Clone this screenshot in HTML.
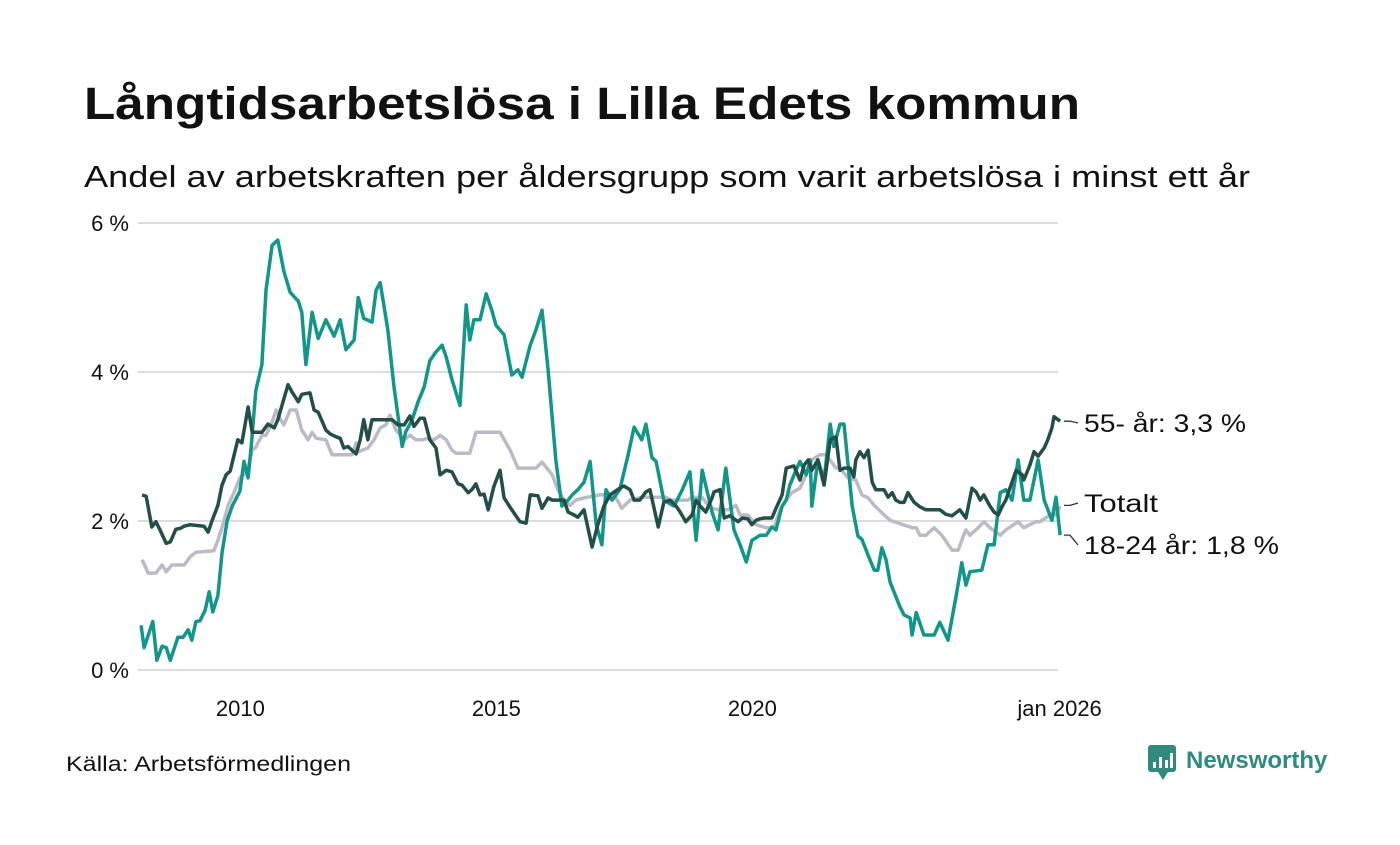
<!DOCTYPE html>
<html><head><meta charset="utf-8"><style>
body{margin:0;background:#fff;width:1400px;height:840px;overflow:hidden;font-family:"Liberation Sans",sans-serif}
</style></head><body>
<svg width="1400" height="840" xmlns="http://www.w3.org/2000/svg" font-family="Liberation Sans, sans-serif">
<text x="84" y="119" font-size="45" font-weight="bold" fill="#111" textLength="996" lengthAdjust="spacingAndGlyphs">Långtidsarbetslösa i Lilla Edets kommun</text>
<text x="84" y="187" font-size="31" fill="#111" textLength="1166" lengthAdjust="spacingAndGlyphs">Andel av arbetskraften per åldersgrupp som varit arbetslösa i minst ett år</text>
<g id="grid"></g><g id="lines"></g><g id="labels"></g>
<text x="66" y="771" font-size="21" fill="#111" textLength="285" lengthAdjust="spacingAndGlyphs">Källa: Arbetsförmedlingen</text>
<g>
<rect x="1148" y="745" width="28" height="27" rx="3" fill="#2e8b7e"/>
<path d="M1158 772 L1163 780 L1168 772 Z" fill="#2e8b7e"/>
<rect x="1153" y="762" width="3" height="6" fill="#fff"/><rect x="1159" y="757" width="3" height="11" fill="#fff"/><rect x="1165" y="760" width="3" height="8" fill="#fff"/><rect x="1170" y="753" width="3" height="15" fill="#fff"/>
<text x="1186" y="768" font-size="24" font-weight="bold" fill="#2e8b7e">Newsworthy</text>
</g>
</svg>
<script>
const yTicks=[0,2,4,6];
const yTickLabels=["0 %","2 %","4 %","6 %"];
const xTicks=[2010,2015,2020,2026];
const xTickLabels=["2010","2015","2020","jan 2026"];
const darkDates=[2008.08,2008.16,2008.27,2008.35,2008.43,2008.55,2008.63,2008.74,2008.82,2008.90,2009.02,2009.29,2009.37,2009.45,2009.56,2009.64,2009.72,2009.80,2009.95,2010.03,2010.15,2010.23,2010.42,2010.54,2010.66,2010.73,2010.93,2011.01,2011.13,2011.20,2011.36,2011.44,2011.52,2011.67,2011.75,2011.87,2011.95,2012.02,2012.10,2012.26,2012.34,2012.41,2012.49,2012.57,2012.96,2013.08,2013.20,2013.31,2013.39,2013.51,2013.59,2013.70,2013.82,2013.90,2014.02,2014.13,2014.25,2014.33,2014.45,2014.52,2014.60,2014.68,2014.76,2014.84,2014.95,2015.07,2015.15,2015.30,2015.46,2015.58,2015.66,2015.81,2015.89,2016.01,2016.09,2016.32,2016.40,2016.52,2016.59,2016.71,2016.87,2016.98,2017.10,2017.22,2017.30,2017.41,2017.49,2017.61,2017.69,2017.80,2017.92,2018.00,2018.16,2018.27,2018.39,2018.51,2018.59,2018.70,2018.82,2018.90,2018.98,2019.09,2019.21,2019.25,2019.37,2019.45,2019.56,2019.72,2019.80,2019.91,2019.99,2020.07,2020.15,2020.23,2020.38,2020.46,2020.58,2020.66,2020.81,2020.93,2021.01,2021.09,2021.16,2021.28,2021.40,2021.52,2021.63,2021.71,2021.79,2021.91,2021.98,2022.02,2022.10,2022.18,2022.26,2022.34,2022.41,2022.57,2022.65,2022.73,2022.80,2022.88,2022.96,2023.04,2023.16,2023.27,2023.39,2023.51,2023.66,2023.78,2023.90,2024.05,2024.17,2024.29,2024.37,2024.45,2024.52,2024.64,2024.72,2024.80,2024.88,2024.95,2025.03,2025.15,2025.27,2025.30,2025.42,2025.50,2025.58,2025.70,2025.77,2025.85,2025.89,2025.97,2026.01];
const darkValues=[2.35,2.33,1.92,1.99,1.88,1.7,1.72,1.89,1.9,1.93,1.95,1.93,1.85,2.01,2.21,2.48,2.62,2.67,3.09,3.05,3.53,3.19,3.19,3.3,3.25,3.36,3.83,3.73,3.6,3.7,3.72,3.49,3.46,3.22,3.17,3.13,3.11,2.98,3.0,2.9,3.09,3.36,3.09,3.36,3.36,3.29,3.29,3.41,3.27,3.38,3.38,3.09,2.98,2.62,2.68,2.66,2.5,2.48,2.38,2.42,2.5,2.35,2.36,2.15,2.46,2.68,2.31,2.15,1.99,1.97,2.35,2.34,2.17,2.31,2.28,2.28,2.12,2.08,2.05,2.15,1.65,1.95,2.2,2.35,2.39,2.44,2.47,2.42,2.28,2.28,2.39,2.42,1.92,2.25,2.28,2.2,2.12,1.99,2.08,2.28,2.2,2.12,2.31,2.39,2.42,2.04,2.07,1.99,2.04,2.03,1.95,2.01,2.03,2.04,2.04,2.17,2.35,2.71,2.74,2.55,2.75,2.82,2.68,2.82,2.48,3.09,3.13,2.68,2.71,2.71,2.59,2.82,2.93,2.85,2.95,2.52,2.42,2.42,2.32,2.38,2.28,2.25,2.25,2.38,2.25,2.19,2.15,2.15,2.15,2.09,2.07,2.15,2.04,2.44,2.39,2.28,2.35,2.2,2.12,2.08,2.2,2.28,2.44,2.68,2.62,2.55,2.75,2.93,2.87,2.98,3.09,3.25,3.4,3.36,3.34];
const totalDates=[2008.08,2008.20,2008.35,2008.47,2008.55,2008.66,2008.90,2009.02,2009.13,2009.48,2009.56,2009.64,2009.76,2009.88,2009.99,2010.07,2010.15,2010.23,2010.30,2010.42,2010.50,2010.62,2010.70,2010.77,2010.85,2010.97,2011.09,2011.20,2011.32,2011.40,2011.48,2011.67,2011.79,2012.18,2012.26,2012.30,2012.49,2012.61,2012.73,2012.84,2012.92,2013.04,2013.20,2013.31,2013.43,2013.55,2013.66,2013.78,2013.90,2014.02,2014.13,2014.21,2014.48,2014.60,2015.07,2015.27,2015.42,2015.77,2015.89,2016.09,2016.20,2016.32,2016.44,2016.55,2016.71,2017.02,2017.30,2017.45,2017.61,2017.84,2018.31,2018.39,2018.74,2018.82,2019.02,2019.09,2019.21,2019.33,2019.52,2019.68,2019.76,2019.91,2020.07,2020.27,2020.42,2020.54,2020.66,2020.77,2020.93,2021.05,2021.16,2021.32,2021.44,2021.63,2021.71,2021.87,2022.02,2022.14,2022.26,2022.38,2022.53,2022.69,2023.12,2023.20,2023.27,2023.39,2023.55,2023.70,2023.90,2024.02,2024.09,2024.17,2024.25,2024.41,2024.52,2024.64,2024.84,2024.95,2025.19,2025.30,2025.54,2025.62,2025.81,2025.93,2026.01];
const totalValues=[1.48,1.3,1.3,1.41,1.32,1.41,1.41,1.52,1.58,1.6,1.74,1.91,2.21,2.39,2.58,2.62,2.71,2.95,2.99,3.15,3.15,3.33,3.49,3.38,3.29,3.49,3.49,3.22,3.09,3.19,3.11,3.09,2.89,2.89,3.05,2.93,2.98,3.09,3.25,3.29,3.42,3.22,3.09,3.15,3.09,3.09,3.11,3.09,3.15,3.09,2.95,2.91,2.91,3.19,3.19,2.95,2.71,2.71,2.79,2.62,2.42,2.28,2.21,2.28,2.31,2.35,2.35,2.17,2.28,2.32,2.32,2.28,2.28,2.32,2.32,2.25,2.17,2.15,2.15,2.21,2.08,2.08,1.95,1.91,1.91,2.15,2.28,2.38,2.44,2.62,2.82,2.89,2.89,2.71,2.71,2.58,2.55,2.35,2.31,2.21,2.11,2.01,1.91,1.91,1.81,1.81,1.91,1.81,1.61,1.61,1.74,1.88,1.81,1.91,1.99,1.91,1.81,1.88,1.99,1.91,1.99,1.99,2.08,2.08,2.2,2.21];
const youthDates=[2008.06,2008.12,2008.29,2008.37,2008.47,2008.55,2008.63,2008.78,2008.88,2008.98,2009.05,2009.13,2009.21,2009.31,2009.39,2009.46,2009.56,2009.64,2009.74,2009.84,2009.99,2010.07,2010.15,2010.21,2010.30,2010.42,2010.50,2010.62,2010.73,2010.85,2010.97,2011.13,2011.20,2011.28,2011.40,2011.52,2011.67,2011.83,2011.95,2012.06,2012.22,2012.30,2012.41,2012.57,2012.65,2012.73,2012.88,2013.00,2013.16,2013.23,2013.35,2013.47,2013.59,2013.70,2013.82,2013.94,2014.02,2014.13,2014.29,2014.41,2014.48,2014.56,2014.68,2014.80,2014.91,2014.99,2015.15,2015.30,2015.42,2015.50,2015.66,2015.77,2015.89,2016.01,2016.16,2016.28,2016.40,2016.48,2016.59,2016.71,2016.83,2016.95,2017.06,2017.14,2017.26,2017.41,2017.57,2017.69,2017.84,2017.92,2018.04,2018.12,2018.27,2018.47,2018.63,2018.78,2018.90,2019.02,2019.21,2019.33,2019.48,2019.64,2019.76,2019.88,2019.99,2020.15,2020.27,2020.38,2020.46,2020.58,2020.66,2020.73,2020.85,2020.93,2021.05,2021.13,2021.16,2021.28,2021.40,2021.52,2021.59,2021.71,2021.79,2021.95,2022.06,2022.14,2022.26,2022.38,2022.45,2022.53,2022.61,2022.69,2022.88,2022.96,2023.08,2023.12,2023.20,2023.35,2023.55,2023.66,2023.82,2023.98,2024.09,2024.17,2024.25,2024.48,2024.60,2024.72,2024.84,2024.95,2025.07,2025.19,2025.30,2025.42,2025.58,2025.70,2025.85,2025.93,2026.01];
const youthValues=[0.6,0.3,0.65,0.13,0.32,0.3,0.13,0.44,0.44,0.54,0.4,0.65,0.66,0.8,1.05,0.78,1.0,1.57,2.0,2.2,2.4,2.8,2.58,3.0,3.75,4.1,5.1,5.7,5.77,5.35,5.07,4.95,4.8,4.1,4.8,4.45,4.7,4.48,4.7,4.3,4.43,5.0,4.72,4.67,5.1,5.2,4.56,3.8,3.0,3.2,3.35,3.6,3.8,4.15,4.27,4.36,4.2,3.9,3.55,4.9,4.43,4.7,4.7,5.05,4.83,4.63,4.5,3.96,4.03,3.93,4.36,4.56,4.83,4.03,2.82,2.2,2.28,2.35,2.42,2.52,2.8,1.95,1.68,2.42,2.28,2.42,2.88,3.26,3.09,3.3,2.85,2.8,2.28,2.2,2.42,2.66,1.74,2.68,2.12,1.88,2.71,1.88,1.68,1.45,1.74,1.81,1.81,1.92,1.88,2.2,2.28,2.48,2.68,2.8,2.62,2.82,2.2,2.82,2.55,3.3,3.0,3.3,3.3,2.2,1.8,1.75,1.54,1.34,1.34,1.64,1.48,1.18,0.85,0.74,0.7,0.47,0.77,0.47,0.47,0.64,0.4,1.0,1.44,1.14,1.32,1.34,1.68,1.68,2.38,2.42,2.28,2.82,2.28,2.28,2.82,2.28,2.01,2.32,1.81];

const NS="http://www.w3.org/2000/svg";
const x0=138,x1=1059.6,yBase=670,yPx=74.5;
function xScale(t){return x0+(t-2008)*(x1-x0)/18;}
function yScale(v){return yBase-v*yPx;}
function mk(tag,attrs,parent){const e=document.createElementNS(NS,tag);for(const k in attrs)e.setAttribute(k,attrs[k]);parent.appendChild(e);return e;}
const grid=document.getElementById('grid');
yTicks.forEach((v,i)=>{
  const l=mk('line',{x1:x0,x2:1058,y1:yScale(v),y2:yScale(v),stroke:'#dcdcdc','stroke-width':2},grid);
  
  
  const t=mk('text',{x:129,y:yScale(v)+8,'font-size':22,'text-anchor':'end',fill:'#111'},grid);
  t.textContent=yTickLabels[i];
  
  
});
xTicks.forEach((v,i)=>{
  const t=mk('text',{x:xScale(v),y:716,'font-size':22,'text-anchor':'middle',fill:'#111'},grid);
  t.textContent=xTickLabels[i];
  
  
});
const lines=document.getElementById('lines');
function draw(d,v,color,name){
  const p=mk('polyline',{points:d.map((t,i)=>xScale(t).toFixed(1)+','+yScale(v[i]).toFixed(1)).join(' '),fill:'none',stroke:color,'stroke-width':3.5,'stroke-linejoin':'round'},lines);
  
  
}
draw(totalDates,totalValues,'#bdbac8','line-totalt');
draw(youthDates,youthValues,'#12968a','line-18-24');
draw(darkDates,darkValues,'#234f46','line-55');
const lab=document.getElementById('labels');
function label(v,ty,txt,name,w){
  const yv=yScale(v);
  const l=mk('polyline',{points:`1064,${yv} 1070,${yv} 1078,${ty}`,fill:'none',stroke:'#333','stroke-width':1.3},lab);
  
  
  const e=mk('text',{x:1084,y:ty+9,'font-size':25,fill:'#111',textLength:w,lengthAdjust:'spacingAndGlyphs'},lab);
  e.textContent=txt;
  
  
}
label(darkValues[darkValues.length-1],423,'55- år: 3,3 %','label-55',162);
label(totalValues[totalValues.length-1],503,'Totalt','label-totalt',74);
label(youthValues[youthValues.length-1],545,'18-24 år: 1,8 %','label-18-24',195);
</script>
</body></html>
